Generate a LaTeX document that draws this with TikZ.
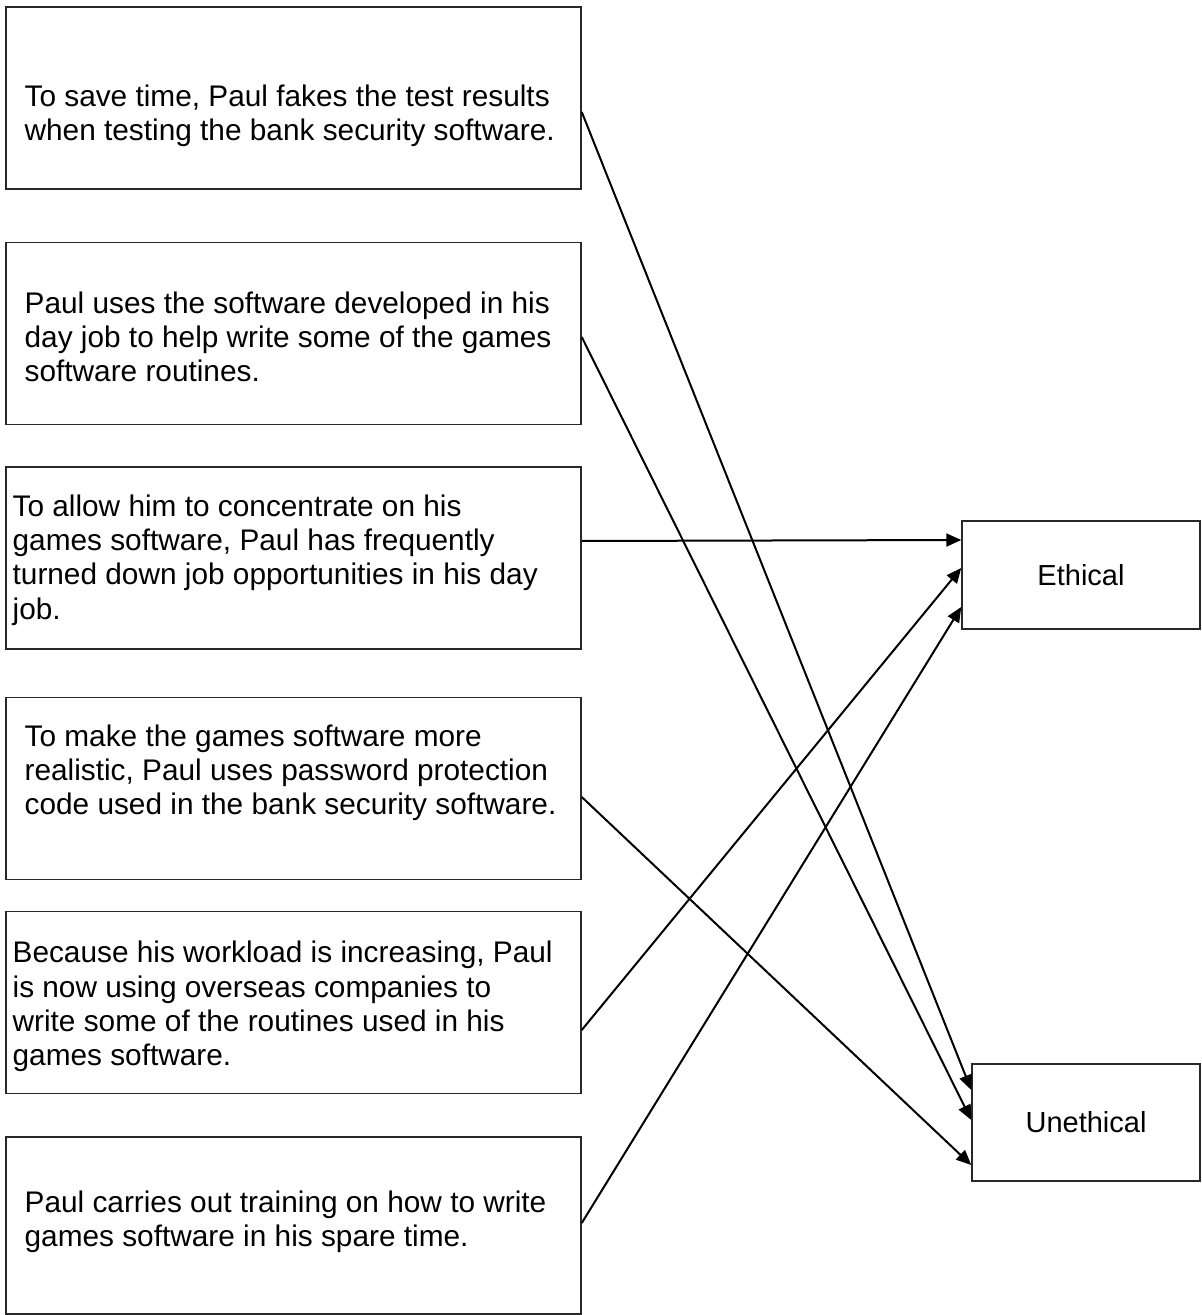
\documentclass[tikz,border=0pt]{standalone}
\usepackage{xcolor}
\usepackage{fontspec}
\setmainfont{Liberation Sans}
\usepackage{tikz}
\usetikzlibrary{arrows.meta, positioning, calc}
\definecolor{EthLine}{RGB}{0, 0, 0}
\definecolor{EthBorder}{RGB}{40, 40, 40}

\tikzset{
  stmtbox/.style={
    draw=EthBorder, line width=0.75pt, fill=white,
    minimum width=287.5pt, minimum height=91pt, inner sep=0pt
  },
  stmttext/.style={
    anchor=west, inner sep=0pt, align=left,
    font=\fontsize{14.9}{17.1}\selectfont
  },
  verdictbox/.style={
    draw=EthBorder, line width=0.75pt, fill=white,
    inner sep=0pt, align=center,
    font=\fontsize{14.5}{16.8}\selectfont
  },
  link/.style={
    draw=EthLine, line width=1pt,
    -{Triangle[length=7.5pt, width=6.5pt]}
  }
}

\begin{document}
\begin{tikzpicture}[x=0.5pt, y=-0.5pt]
    \useasboundingbox (0,0) rectangle (1202,1315);

    % statements on the left
    \node[stmtbox] (stmtFake) at (293.5,98) {};
    \node[stmttext] (stmtFakeText) at ($(stmtFake.west)+(19,18)$) {%
      To save time, Paul fakes the test results\\
      when testing the bank security software.};

    \node[stmtbox] (stmtReuse) at (293.5,333.5) {};
    \node[stmttext] (stmtReuseText) at ($(stmtReuse.west)+(19,3.5)$) {%
      Paul uses the software developed in his\\
      day job to help write some of the games\\
      software routines.};

    \node[stmtbox] (stmtDecline) at (293.5,558) {};
    \node[stmttext] (stmtDeclineText) at ($(stmtDecline.west)+(7,2)$) {%
      To allow him to concentrate on his\\
      games software, Paul has frequently\\
      turned down job opportunities in his day\\
      job.};

    \node[stmtbox] (stmtPassword) at (293.5,788.5) {};
    \node[stmttext] (stmtPasswordText) at ($(stmtPassword.west)+(19,-16)$) {%
      To make the games software more\\
      realistic, Paul uses password protection\\
      code used in the bank security software.};

    \node[stmtbox] (stmtOverseas) at (293.5,1002.5) {};
    \node[stmttext] (stmtOverseasText) at ($(stmtOverseas.west)+(7,4)$) {%
      Because his workload is increasing, Paul\\
      is now using overseas companies to\\
      write some of the routines used in his\\
      games software.};

    \node[stmtbox, minimum height=88.5pt] (stmtTraining) at (293.5,1225.5) {};
    \node[stmttext] (stmtTrainingText) at ($(stmtTraining.west)+(19,-4)$) {%
      Paul carries out training on how to write\\
      games software in his spare time.};

    % verdicts on the right
    \node[verdictbox, minimum width=119pt, minimum height=54pt] (ethical) at (1081,575) {Ethical};
    \node[verdictbox, minimum width=114pt, minimum height=58.5pt] (unethical) at (1086,1122.5) {Unethical};

    % links
    \draw[link] ($(stmtFake.east)+(0,14)$) -- ($(unethical.west)+(0,-32.5)$);
    \draw[link] ($(stmtReuse.east)+(0,3.5)$) -- ($(unethical.west)+(0,-2.5)$);
    \draw[link] ($(stmtDecline.east)+(0,-17)$) -- ($(ethical.west)+(0,-35)$);
    \draw[link] ($(stmtPassword.east)+(0,8.5)$) -- ($(unethical.west)+(0,42.5)$);
    \draw[link] ($(stmtOverseas.east)+(0,27.5)$) -- ($(ethical.west)+(0,-7)$);
    \draw[link] ($(stmtTraining.east)+(0,-2.5)$) -- ($(ethical.west)+(0,32)$);
  \end{tikzpicture}
\end{document}
